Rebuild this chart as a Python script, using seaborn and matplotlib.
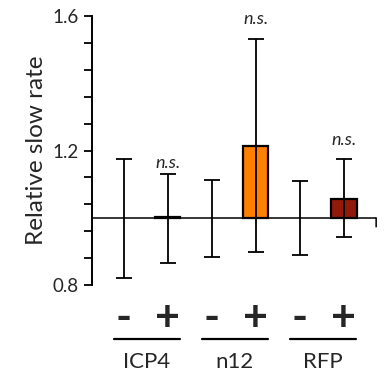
import numpy as np
import pandas as pd
import seaborn as sns
import matplotlib
matplotlib.use("Agg")
import matplotlib.pyplot as plt
from matplotlib.transforms import blended_transform_factory
from matplotlib.ticker import MultipleLocator

# ---- data ----
groups = ["ICP4", "n12", "RFP"]
signs = ["-", "+", "-", "+", "-", "+"]
conditions = ["ICP4 -", "ICP4 +", "n12 -", "n12 +", "RFP -", "RFP +"]
values = [1.0, 1.003, 1.0, 1.214, 1.0, 1.056]
err_high = [1.175, 1.13, 1.113, 1.533, 1.11, 1.175]
err_low = [0.822, 0.866, 0.884, 0.898, 0.889, 0.942]
sig_labels = ["", "n.s.", "", "n.s.", "", "n.s."]
bar_colors = ["white", "white", "white", "#FF8000", "white", "#921A0B"]
edge_colors = ["none", "black", "none", "black", "none", "black"]
baseline = 1.0

sns.set_style("white")
plt.rcParams["font.family"] = ["Lato", "DejaVu Sans"]

fig = plt.figure(figsize=(3.85, 3.76), dpi=100)
ax = fig.add_axes([0.238, 0.242, 0.977 - 0.238, 0.957 - 0.242])

df = pd.DataFrame({"cond": conditions, "delta": np.array(values) - baseline})
sns.barplot(data=df, x="cond", y="delta", hue="cond", palette=bar_colors,
            saturation=1, width=0.57, bottom=baseline, legend=False, ax=ax, zorder=2)
for p, ec in zip(ax.patches, edge_colors):
    p.set_edgecolor(ec)
    p.set_linewidth(1.6)

xs = np.arange(len(conditions))
vals = np.array(values)
ax.errorbar(xs, vals, yerr=[vals - np.array(err_low), np.array(err_high) - vals],
            fmt="none", ecolor="black", elinewidth=1.3, capsize=5.5, capthick=1.3, zorder=4)

ax.set_xlim(-0.73, 5.73)
ax.set_ylim(0.8, 1.6)
ax.axhline(baseline, color="black", lw=1.1, zorder=3)

# end tick at right end of category axis
ax.annotate("", xy=(1.0, baseline), xycoords=("axes fraction", "data"),
            xytext=(0, -9), textcoords="offset pixels",
            arrowprops=dict(arrowstyle="-", color="black", lw=1.1, shrinkA=0, shrinkB=0))

for s in ["top", "right", "bottom"]:
    ax.spines[s].set_visible(False)
ax.spines["left"].set_color("black")
ax.spines["left"].set_linewidth(1.4)

ax.yaxis.set_major_locator(MultipleLocator(0.4))
ax.yaxis.set_minor_locator(MultipleLocator(0.08))
ax.tick_params(axis="y", which="both", left=True, direction="out", length=5.5, width=1.3,
               color="black", labelsize=13.5, pad=4)
ax.set_yticks([0.8, 1.2, 1.6])
ax.set_yticklabels(["0.8", "1.2", "1.6"])

ax.set_xticks([])
ax.set_xlabel("")
ax.set_ylabel("Relative slow rate", fontsize=17.5, labelpad=4)

trans = blended_transform_factory(ax.transData, ax.transAxes)
# sign labels under each bar
for x, s in zip(xs, signs):
    ax.text(x, -0.123, s, transform=trans, ha="center", va="center",
            fontsize=31, fontweight="bold")

# significance labels
sig_offsets = [0, 11.5, 0, 19.5, 0, 18.5]
for x, hi, lab, off in zip(xs, err_high, sig_labels, sig_offsets):
    if lab:
        ax.annotate(lab, xy=(x, hi), xytext=(0, off), textcoords="offset pixels",
                    ha="center", va="center", fontsize=13, style="italic")

# group lines and labels
for gi, g in enumerate(groups):
    x0, x1 = 2 * gi - 0.23, 2 * gi + 1 + 0.27
    ax.plot([x0, x1], [-0.201, -0.201], color="black", lw=1.6, transform=trans, clip_on=False)
    ax.text((x0 + x1) / 2, -0.309, g, transform=trans, ha="center", va="baseline", fontsize=16)

fig.savefig("out.png", dpi=100)
